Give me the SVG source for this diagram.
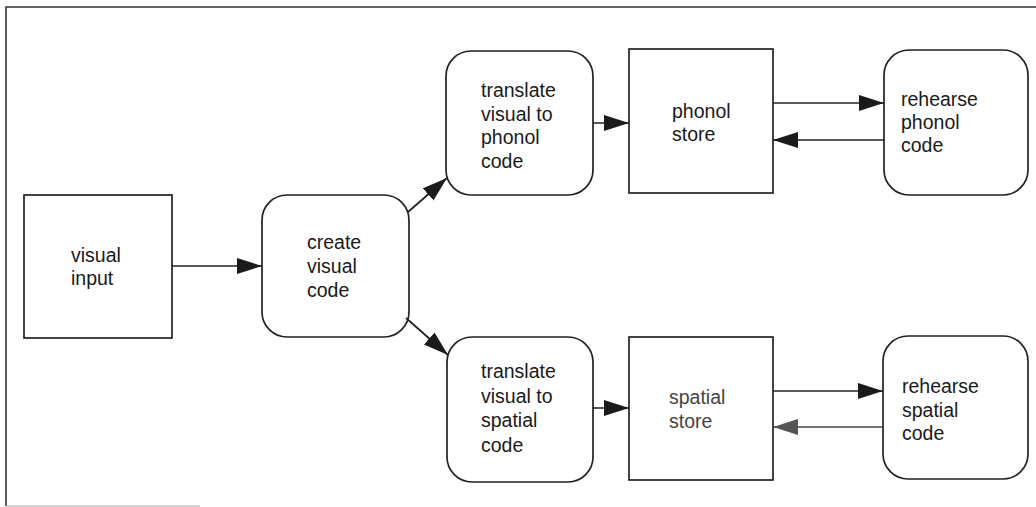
<svg xmlns="http://www.w3.org/2000/svg" width="1036" height="507" viewBox="0 0 1036 507">
<defs>
<style>
.box{fill:#fff;stroke:#222;stroke-width:1.7}
.t{font-family:"Liberation Sans",Arial,sans-serif;font-size:19.5px;fill:#1a1a1a}
.c{stroke:#222;stroke-width:1.7;fill:none;marker-end:url(#ah)}
.frame{stroke:#333;stroke-width:1.6;fill:none}
</style>
<marker id="ah" markerUnits="userSpaceOnUse" markerWidth="28" markerHeight="18" refX="25" refY="8" orient="auto">
<path d="M0,0 L25,8 L0,16 Z" fill="#1a1a1a"/>
</marker>
<marker id="ahg" markerUnits="userSpaceOnUse" markerWidth="28" markerHeight="18" refX="25" refY="8" orient="auto">
<path d="M0,0 L25,8 L0,16 Z" fill="#555"/>
</marker>
</defs>
<rect width="1036" height="507" fill="#fff"/>
<path class="frame" d="M1036,7 L6,7 L6,506"/>
<path d="M6,506 L200,506" stroke="#aaa" stroke-width="1.2"/>

<g id="visual-input">
<rect class="box" x="24" y="195" width="148" height="143"/>
<text class="t" x="71" y="262">visual</text>
<text class="t" x="71" y="285">input</text>
</g>
<g id="create-visual-code">
<rect class="box" x="262" y="195" width="147" height="142" rx="25"/>
<text class="t" x="307" y="249">create</text>
<text class="t" x="307" y="273">visual</text>
<text class="t" x="307" y="297">code</text>
</g>
<g id="translate-phonol">
<rect class="box" x="446" y="51" width="147" height="144" rx="25"/>
<text class="t" x="481" y="97">translate</text>
<text class="t" x="481" y="121">visual to</text>
<text class="t" x="481" y="144">phonol</text>
<text class="t" x="481" y="168">code</text>
</g>
<g id="phonol-store">
<rect class="box" x="629" y="49" width="144" height="144"/>
<text class="t" x="672" y="118">phonol</text>
<text class="t" x="672" y="141">store</text>
</g>
<g id="rehearse-phonol">
<rect class="box" x="884" y="50" width="144" height="145" rx="25"/>
<text class="t" x="901" y="106">rehearse</text>
<text class="t" x="901" y="129">phonol</text>
<text class="t" x="901" y="152">code</text>
</g>
<g id="translate-spatial">
<rect class="box" x="447" y="337" width="146" height="145" rx="25"/>
<text class="t" x="481" y="378">translate</text>
<text class="t" x="481" y="403">visual to</text>
<text class="t" x="481" y="427">spatial</text>
<text class="t" x="481" y="452">code</text>
</g>
<g id="spatial-store">
<rect class="box" x="629" y="337" width="144" height="143"/>
<text class="t" x="669" y="404" style="fill:#444">spatial</text>
<text class="t" x="669" y="428" style="fill:#444">store</text>
</g>
<g id="rehearse-spatial">
<rect class="box" x="883" y="336" width="145" height="143" rx="25"/>
<text class="t" x="902" y="393">rehearse</text>
<text class="t" x="902" y="417">spatial</text>
<text class="t" x="902" y="440">code</text>
</g>

<g id="connectors">
<line class="c" x1="172" y1="266" x2="262" y2="266"/>
<line class="c" x1="408" y1="212" x2="447" y2="178"/>
<line class="c" x1="406" y1="318" x2="448" y2="355"/>
<line class="c" x1="593" y1="123" x2="629" y2="123"/>
<line class="c" x1="773" y1="103" x2="884" y2="103"/>
<line class="c" x1="884" y1="140" x2="773" y2="140"/>
<line class="c" x1="593" y1="408" x2="629" y2="408"/>
<line class="c" x1="773" y1="391" x2="883" y2="391"/>
<line class="c" x1="883" y1="427" x2="773" y2="427" style="stroke:#444;marker-end:url(#ahg)"/>
</g>
</svg>
